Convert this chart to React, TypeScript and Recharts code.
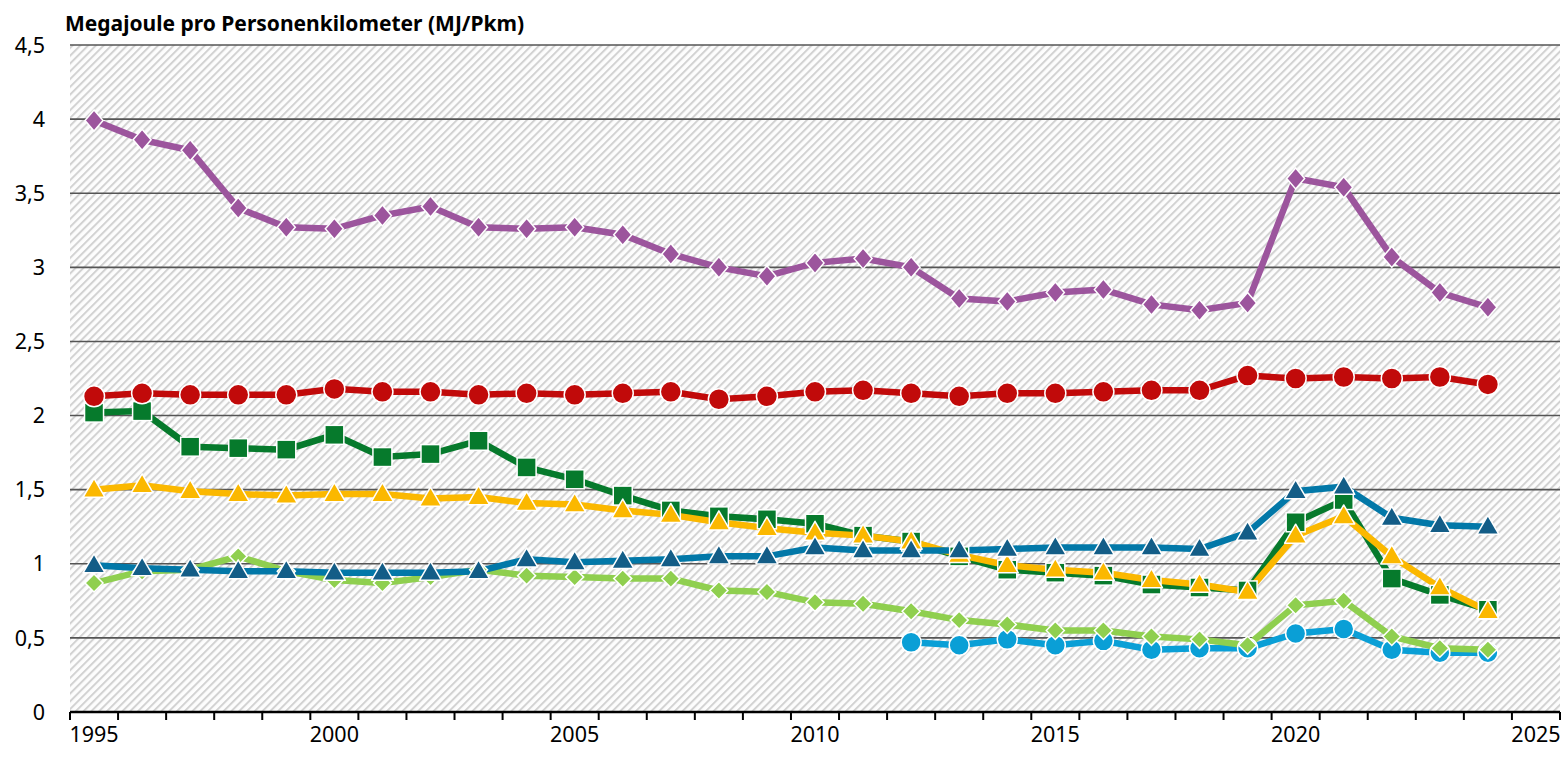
import React from "react";
import { CartesianGrid, Line, LineChart, XAxis, YAxis } from "recharts";

const years = [
  1995, 1996, 1997, 1998, 1999, 2000, 2001, 2002, 2003, 2004, 2005, 2006, 2007, 2008, 2009,
  2010, 2011, 2012, 2013, 2014, 2015, 2016, 2017, 2018, 2019, 2020, 2021, 2022, 2023, 2024,
];

const purpleValues = [
  3.99, 3.86, 3.79, 3.4, 3.27, 3.26, 3.35, 3.41, 3.27, 3.26, 3.27, 3.22, 3.09, 3.0, 2.94,
  3.03, 3.06, 3.0, 2.79, 2.77, 2.83, 2.85, 2.75, 2.71, 2.76, 3.6, 3.54, 3.07, 2.83, 2.73,
];
const redValues = [
  2.13, 2.15, 2.14, 2.14, 2.14, 2.18, 2.16, 2.16, 2.14, 2.15, 2.14, 2.15, 2.16, 2.11, 2.13,
  2.16, 2.17, 2.15, 2.13, 2.15, 2.15, 2.16, 2.17, 2.17, 2.27, 2.25, 2.26, 2.25, 2.26, 2.21,
];
const greenValues = [
  2.02, 2.03, 1.79, 1.78, 1.77, 1.87, 1.72, 1.74, 1.83, 1.65, 1.57, 1.46, 1.36, 1.32, 1.3,
  1.27, 1.19, 1.15, 1.05, 0.96, 0.94, 0.92, 0.86, 0.84, 0.82, 1.28, 1.43, 0.9, 0.79, 0.69,
];
const yellowValues = [
  1.5, 1.53, 1.49, 1.47, 1.46, 1.47, 1.47, 1.44, 1.45, 1.41, 1.4, 1.36, 1.33, 1.28, 1.24,
  1.21, 1.19, 1.15, 1.06, 0.99, 0.96, 0.94, 0.89, 0.86, 0.81, 1.19, 1.32, 1.05, 0.84, 0.68,
];
const blueValues = [
  0.99, 0.97, 0.96, 0.95, 0.95, 0.94, 0.94, 0.94, 0.95, 1.03, 1.01, 1.02, 1.03, 1.05, 1.05,
  1.11, 1.09, 1.09, 1.09, 1.1, 1.11, 1.11, 1.11, 1.1, 1.21, 1.49, 1.52, 1.31, 1.26, 1.25,
];
const lightGreenValues = [
  0.87, 0.95, 0.96, 1.05, 0.95, 0.89, 0.87, 0.91, 0.96, 0.92, 0.91, 0.9, 0.9, 0.82, 0.81,
  0.74, 0.73, 0.68, 0.62, 0.59, 0.55, 0.55, 0.51, 0.49, 0.45, 0.72, 0.75, 0.51, 0.43, 0.42,
];
const cyanValues = [
  null, null, null, null, null, null, null, null, null, null, null, null, null, null, null,
  null, null, 0.47, 0.45, 0.49, 0.45, 0.48, 0.42, 0.43, 0.43, 0.53, 0.56, 0.42, 0.4, 0.4,
];

const yTicks = [0, 0.5, 1, 1.5, 2, 2.5, 3, 3.5, 4, 4.5];
const yearLabels = [1995, 2000, 2005, 2010, 2015, 2020, 2025];
const yearBoundaries = Array.from({ length: 32 }, (_, i) => 1994.5 + i);

const chartData = years.map((year, i) => ({
  year,
  purple: purpleValues[i],
  red: redValues[i],
  green: greenValues[i],
  yellow: yellowValues[i],
  blue: blueValues[i],
  lightGreen: lightGreenValues[i],
  cyan: cyanValues[i],
}));

const FONT = "'Noto Sans', sans-serif";

type DotProps = { cx?: number; cy?: number; index?: number; value?: number | null };

function hasPoint(p: DotProps) {
  return p.cx != null && p.cy != null && p.value != null && Number.isFinite(p.cy);
}

function circleDot(fill: string, r: number) {
  return (p: DotProps) =>
    hasPoint(p) ? (
      <circle key={`c-${fill}-${p.index}`} cx={p.cx} cy={p.cy} r={r} fill={fill} stroke="#fff" strokeWidth={1.5} />
    ) : (
      <g key={`e-${fill}-${p.index}`} />
    );
}

function squareDot(fill: string, s: number) {
  return (p: DotProps) =>
    hasPoint(p) ? (
      <rect
        key={`s-${p.index}`}
        x={(p.cx as number) - s / 2}
        y={(p.cy as number) - s / 2}
        width={s}
        height={s}
        fill={fill}
        stroke="#fff"
        strokeWidth={1.5}
      />
    ) : (
      <g key={`e-${p.index}`} />
    );
}

function triangleDot(fill: string, w: number, h: number) {
  return (p: DotProps) => {
    if (!hasPoint(p)) return <g key={`e-${fill}-${p.index}`} />;
    const x = p.cx as number;
    const y = p.cy as number;
    const pts = `${x},${y - h * 0.6} ${x + w / 2},${y + h * 0.4} ${x - w / 2},${y + h * 0.4}`;
    return <polygon key={`t-${fill}-${p.index}`} points={pts} fill={fill} stroke="#fff" strokeWidth={1.5} strokeLinejoin="round" />;
  };
}

function diamondDot(fill: string, w: number, h: number) {
  return (p: DotProps) => {
    if (!hasPoint(p)) return <g key={`e-${fill}-${p.index}`} />;
    const x = p.cx as number;
    const y = p.cy as number;
    const pts = `${x},${y - h / 2} ${x + w / 2},${y} ${x},${y + h / 2} ${x - w / 2},${y}`;
    return <polygon key={`d-${fill}-${p.index}`} points={pts} fill={fill} stroke="#fff" strokeWidth={1.5} />;
  };
}

export default function App() {
  return (
    <div style={{ position: "absolute", left: 0, top: 0, width: 1565, height: 758, background: "#fff", fontFamily: FONT }}>
      <svg width={0} height={0} style={{ position: "absolute" }}>
        <defs>
          <pattern id="hatch" width={5.5} height={5.5} patternUnits="userSpaceOnUse" patternTransform="rotate(45)">
            <rect width={5.5} height={5.5} fill="#fdfdfd" />
            <rect width={2} height={5.5} fill="#d2d2d2" />
          </pattern>
        </defs>
      </svg>
      <div
        style={{
          position: "absolute",
          left: 65,
          top: 13,
          fontSize: 21,
          lineHeight: "21px",
          fontWeight: 700,
          color: "#000",
          whiteSpace: "nowrap",
        }}
      >
        Megajoule pro Personenkilometer (MJ/Pkm)
      </div>
      <LineChart width={1565} height={758} data={chartData} margin={{ top: 45, right: 5, bottom: 8, left: 0 }}>
        <CartesianGrid vertical={false} horizontalValues={yTicks} stroke="#555" strokeWidth={1.6} fill="url(#hatch)" fillOpacity={1} />
        <XAxis
          dataKey="year"
          type="number"
          domain={[1994.5, 2025.5]}
          ticks={yearBoundaries}
          interval={0}
          height={8}
          tickSize={8}
          tickFormatter={() => ""}
          axisLine={{ stroke: "#000", strokeWidth: 2.5 }}
          tickLine={{ stroke: "#000", strokeWidth: 2 }}
        />
        <XAxis
          xAxisId="labels"
          dataKey="year"
          type="number"
          domain={[1994.5, 2025.5]}
          ticks={yearLabels}
          interval={0}
          height={30}
          axisLine={false}
          tickLine={false}
          tickSize={0}
          tickMargin={7}
          tick={{ fill: "#000", fontSize: 21.5, fontFamily: FONT }}
        />
        <YAxis
          type="number"
          domain={[0, 4.5]}
          ticks={yTicks}
          interval={0}
          width={70}
          axisLine={false}
          tickLine={false}
          tickMargin={19}
          tickFormatter={(v: number) => String(v).replace(".", ",")}
          tick={{ fill: "#000", fontSize: 21.5, fontFamily: FONT }}
        />
        <Line dataKey="cyan" stroke="#0a9fd6" strokeWidth={6.5} dot={circleDot("#0a9fd6", 10)} connectNulls={false} isAnimationActive={false} />
        <Line dataKey="lightGreen" stroke="#8fcf4f" strokeWidth={6.5} dot={diamondDot("#8fcf4f", 18, 18)} isAnimationActive={false} />
        <Line dataKey="green" stroke="#067a2c" strokeWidth={6.5} dot={squareDot("#067a2c", 19)} isAnimationActive={false} />
        <Line dataKey="yellow" stroke="#fbb800" strokeWidth={6.5} dot={triangleDot("#fbb800", 22, 19)} isAnimationActive={false} />
        <Line dataKey="blue" stroke="#0278a8" strokeWidth={6.5} dot={triangleDot("#135d87", 22, 19)} isAnimationActive={false} />
        <Line dataKey="red" stroke="#c10a0a" strokeWidth={6.5} dot={circleDot("#c10a0a", 10.5)} isAnimationActive={false} />
        <Line dataKey="purple" stroke="#9c559d" strokeWidth={6.5} dot={diamondDot("#9c559d", 18, 21)} isAnimationActive={false} />
      </LineChart>
    </div>
  );
}
